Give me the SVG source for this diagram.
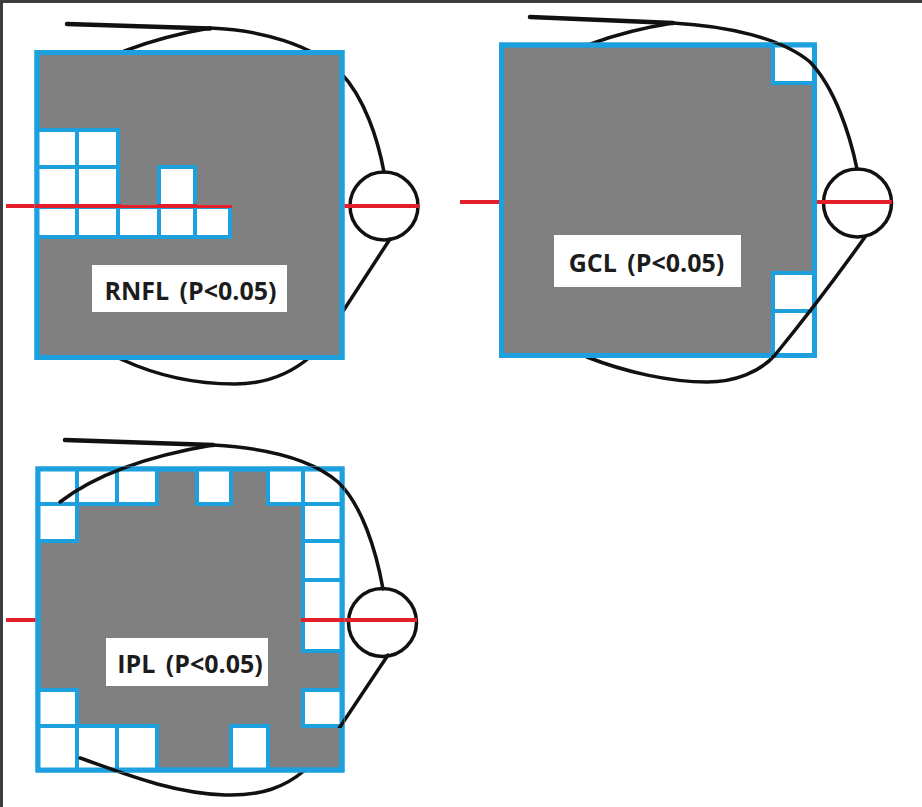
<svg xmlns="http://www.w3.org/2000/svg" width="922" height="807" viewBox="0 0 922 807">
  <style>
    .box { fill: #808080; stroke: #1ca0de; stroke-width: 5; }
    .rim { fill: none; stroke: #1ca0de; stroke-width: 5; }
    .cell { fill: #ffffff; stroke: #1ca0de; stroke-width: 4; }
    .outline { fill: none; stroke: #111111; stroke-width: 3.5; stroke-linecap: round; stroke-linejoin: round; }
    .stem { fill: none; stroke: #111111; stroke-width: 4.5; stroke-linecap: round; }
    .nerve { stroke: #e3202a; stroke-width: 4; }
    .disc { fill: none; stroke: #111111; stroke-width: 3.5; }
    .tag { fill: #ffffff; }
    .lbl { font-family: "Open Sans", "Noto Sans", "Liberation Sans", sans-serif; font-weight: 700; font-size: 25px; word-spacing: 4px; fill: #1c1c1c; text-anchor: middle; }
  </style>
  <defs>
    <!-- curves are hidden where the grey field is, shown over open cells -->
    <mask id="m-rnfl" maskUnits="userSpaceOnUse" x="0" y="0" width="922" height="807">
      <rect x="0" y="0" width="922" height="807" fill="#fff"/>
      <rect x="34.5" y="50" width="310" height="310" fill="#000"/>
      <rect x="35" y="128" width="86" height="111" fill="#fff"/>
      <rect x="157" y="165" width="40" height="74" fill="#fff"/>
      <rect x="116" y="205" width="116" height="34" fill="#fff"/>
    </mask>
    <mask id="m-gcl" maskUnits="userSpaceOnUse" x="0" y="0" width="922" height="807">
      <rect x="0" y="0" width="922" height="807" fill="#fff"/>
      <rect x="499" y="42.5" width="318" height="315.5" fill="#000"/>
      <rect x="771" y="43" width="46" height="42" fill="#fff"/>
      <rect x="771" y="271" width="46" height="87" fill="#fff"/>
    </mask>
    <mask id="m-ipl" maskUnits="userSpaceOnUse" x="0" y="0" width="922" height="807">
      <rect x="0" y="0" width="922" height="807" fill="#fff"/>
      <rect x="35.5" y="466.5" width="309" height="306" fill="#000"/>
      <rect x="36" y="467" width="123" height="39" fill="#fff"/>
      <rect x="195" y="467" width="38" height="39" fill="#fff"/>
      <rect x="266" y="467" width="78" height="39" fill="#fff"/>
      <rect x="36" y="502" width="43" height="41" fill="#fff"/>
      <rect x="301" y="502" width="43" height="151" fill="#fff"/>
      <rect x="36" y="688" width="43" height="84" fill="#fff"/>
      <rect x="301" y="688" width="43" height="40" fill="#fff"/>
      <rect x="36" y="724" width="123" height="48" fill="#fff"/>
      <rect x="229" y="724" width="41" height="48" fill="#fff"/>
    </mask>
  </defs>

  <!-- window frame -->
  <rect x="0" y="0" width="922" height="3" fill="#3d3d3d"/>
  <rect x="0" y="0" width="3" height="807" fill="#3d3d3d"/>

  <!-- RNFL map -->
  <g id="rnfl">
    <rect class="box" x="37" y="52.5" width="305" height="305"/>
    <g class="cells">
      <rect class="cell" x="37" y="130" width="40" height="37"/>
      <rect class="cell" x="77" y="130" width="41" height="37"/>
      <rect class="cell" x="37" y="167" width="40" height="40"/>
      <rect class="cell" x="77" y="167" width="41" height="40"/>
      <rect class="cell" x="159" y="167" width="36" height="40"/>
      <rect class="cell" x="37" y="207" width="40" height="30"/>
      <rect class="cell" x="77" y="207" width="41" height="30"/>
      <rect class="cell" x="118" y="207" width="41" height="30"/>
      <rect class="cell" x="159" y="207" width="36" height="30"/>
      <rect class="cell" x="195" y="207" width="35" height="30"/>
    </g>
    <rect class="rim" x="37" y="52.5" width="305" height="305"/>
    <circle class="disc" cx="384" cy="206" r="34"/>
    <g mask="url(#m-rnfl)">
      <path class="stem" d="M67,24 L210,28.5"/>
      <path class="outline" d="M60,85 Q118,44 210,28"/>
      <path class="outline" d="M210,28 C262,30 312,45 340,72 C365,98 378,140 384,172"/>
      <path class="outline" d="M390,239 L336,322"/>
      <path class="outline" d="M90,345 C105,352 112,355 123,360 C160,377 200,384 235,384 C265,384 290,374 310,357"/>
      <line class="nerve" x1="6" y1="206" x2="419" y2="206"/>
    </g>
    <rect class="tag" x="92" y="265" width="195" height="47"/>
    <text class="lbl" x="190.5" y="300">RNFL (P&lt;0.05)</text>
  </g>

  <!-- GCL map -->
  <g id="gcl">
    <rect class="box" x="501.5" y="45" width="313" height="310.5"/>
    <g class="cells">
      <rect class="cell" x="773" y="45" width="41.5" height="38"/>
      <rect class="cell" x="773" y="273" width="41.5" height="38"/>
      <rect class="cell" x="773" y="311" width="41.5" height="44.5"/>
    </g>
    <rect class="rim" x="501.5" y="45" width="313" height="310.5"/>
    <circle class="disc" cx="857.5" cy="203" r="34"/>
    <g mask="url(#m-gcl)">
      <path class="stem" d="M530,17 L673,23"/>
      <path class="outline" d="M524,78 Q584,37 673,23"/>
      <path class="outline" d="M673,23 C727,26 782,38 810,62 C835,88 850,135 857,169"/>
      <path class="outline" d="M865,237 Q820,300 775,355 C760,372 735,382 707,382 C670,382 625,372 587,357"/>
      <line class="nerve" x1="460" y1="202" x2="892" y2="202"/>
    </g>
    <rect class="tag" x="554" y="235" width="187" height="52"/>
    <text class="lbl" x="646.5" y="272">GCL (P&lt;0.05)</text>
  </g>

  <!-- IPL map -->
  <g id="ipl">
    <rect class="box" x="38" y="469" width="304" height="301"/>
    <g class="cells">
      <rect class="cell" x="38" y="469" width="39" height="35"/>
      <rect class="cell" x="77" y="469" width="40" height="35"/>
      <rect class="cell" x="117" y="469" width="40" height="35"/>
      <rect class="cell" x="197" y="469" width="34" height="35"/>
      <rect class="cell" x="268" y="469" width="35" height="35"/>
      <rect class="cell" x="303" y="469" width="39" height="35"/>
      <rect class="cell" x="38" y="504" width="39" height="37"/>
      <rect class="cell" x="303" y="504" width="39" height="37"/>
      <rect class="cell" x="303" y="541" width="39" height="39"/>
      <rect class="cell" x="303" y="580" width="39" height="40"/>
      <rect class="cell" x="303" y="620" width="39" height="31"/>
      <rect class="cell" x="38" y="690" width="39" height="36"/>
      <rect class="cell" x="303" y="690" width="39" height="36"/>
      <rect class="cell" x="38" y="726" width="39" height="44"/>
      <rect class="cell" x="77" y="726" width="40" height="44"/>
      <rect class="cell" x="117" y="726" width="40" height="44"/>
      <rect class="cell" x="231" y="726" width="37" height="44"/>
    </g>
    <rect class="rim" x="38" y="469" width="304" height="301"/>
    <circle class="disc" cx="382.5" cy="622.5" r="34"/>
    <g mask="url(#m-ipl)">
      <path class="stem" d="M65,440 L213,445"/>
      <path class="outline" d="M60,502 Q112,462 213,445"/>
      <path class="outline" d="M213,445 C265,448 310,458 338,482 C362,505 376,550 383,589"/>
      <path class="outline" d="M388,655 L338,730"/>
      <path class="outline" d="M80,758 C120,772 170,793 225,795 C262,796 285,787 305,770"/>
      <line class="nerve" x1="6" y1="620" x2="417" y2="620"/>
    </g>
    <rect class="tag" x="106" y="638" width="162" height="48"/>
    <text class="lbl" x="190" y="673">IPL (P&lt;0.05)</text>
  </g>
</svg>
